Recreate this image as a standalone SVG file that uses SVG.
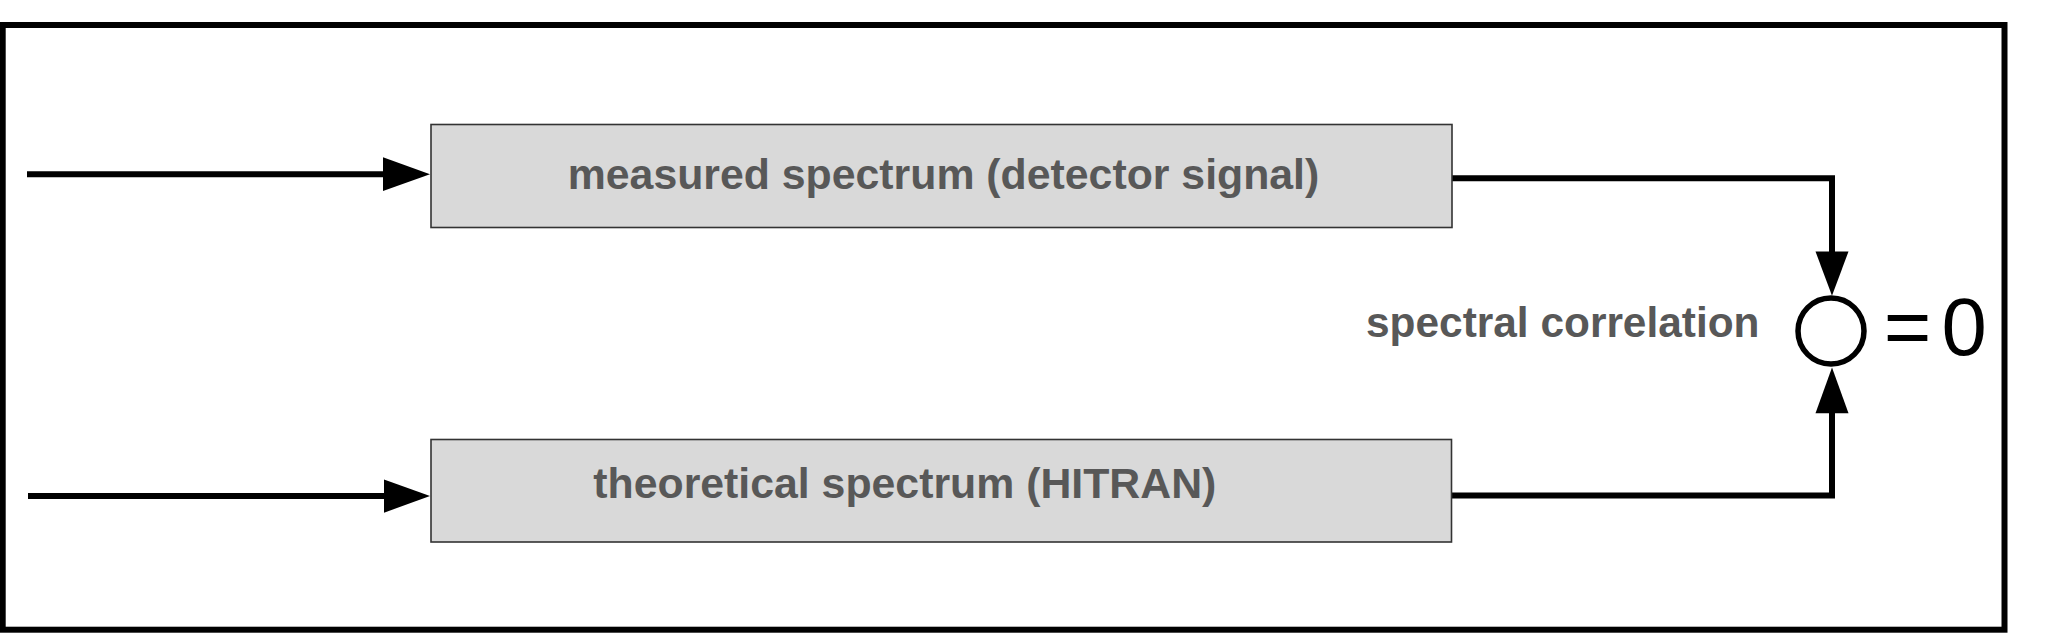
<svg xmlns="http://www.w3.org/2000/svg" width="2048" height="634" viewBox="0 0 2048 634">
  <style>
    .frame { fill: none; stroke: #000; stroke-width: 6; }
    .box { fill: #d9d9d9; stroke: #333; stroke-width: 1.6; }
    .lbl { font-family: "Liberation Sans", Arial, sans-serif; font-weight: bold; fill: #585858; }
    .wire { fill: none; stroke: #000; stroke-width: 6; }
    .head { fill: #000; stroke: none; }
    .eq { font-family: "Liberation Sans", Arial, sans-serif; font-size: 81.5px; fill: #000; }
  </style>
  <rect width="2048" height="634" fill="#fff"/>
  <rect class="frame" x="2.7" y="25" width="2001.8" height="604.7"/>

  <g id="connectors">
    <line class="wire" x1="27" y1="174.3" x2="385" y2="174.3"/>
    <polygon class="head" points="383,157.3 430,174.2 383,190.9"/>
    <line class="wire" x1="28" y1="496" x2="386" y2="496"/>
    <polygon class="head" points="384,479.5 430,496 384,512.7"/>
    <polyline class="wire" points="1452,178.2 1832,178.2 1832,253"/>
    <polygon class="head" points="1815.5,251.5 1848.5,251.5 1832,295.7"/>
    <polyline class="wire" points="1451.7,495.5 1832,495.5 1832,412"/>
    <polygon class="head" points="1815.5,413.3 1848.5,413.3 1832,367.5"/>
  </g>

  <g id="measured">
    <rect class="box" x="431" y="124.5" width="1021" height="103"/>
    <text class="lbl" x="943.5" y="188.5" font-size="42.8" text-anchor="middle">measured spectrum (detector signal)</text>
  </g>

  <g id="theoretical">
    <rect class="box" x="431" y="439.5" width="1020.5" height="102.5"/>
    <text class="lbl" x="593.3" y="497.7" font-size="42.8">theoretical spectrum (HITRAN)</text>
  </g>

  <g id="correlation">
    <text class="lbl" x="1759.5" y="337" font-size="42.4" text-anchor="end">spectral correlation</text>
    <circle cx="1831" cy="331" r="33" fill="#fff" stroke="#000" stroke-width="5.5"/>
    <text class="eq" y="355"><tspan x="1883.8">=</tspan><tspan x="1941.6">0</tspan></text>
  </g>
</svg>
